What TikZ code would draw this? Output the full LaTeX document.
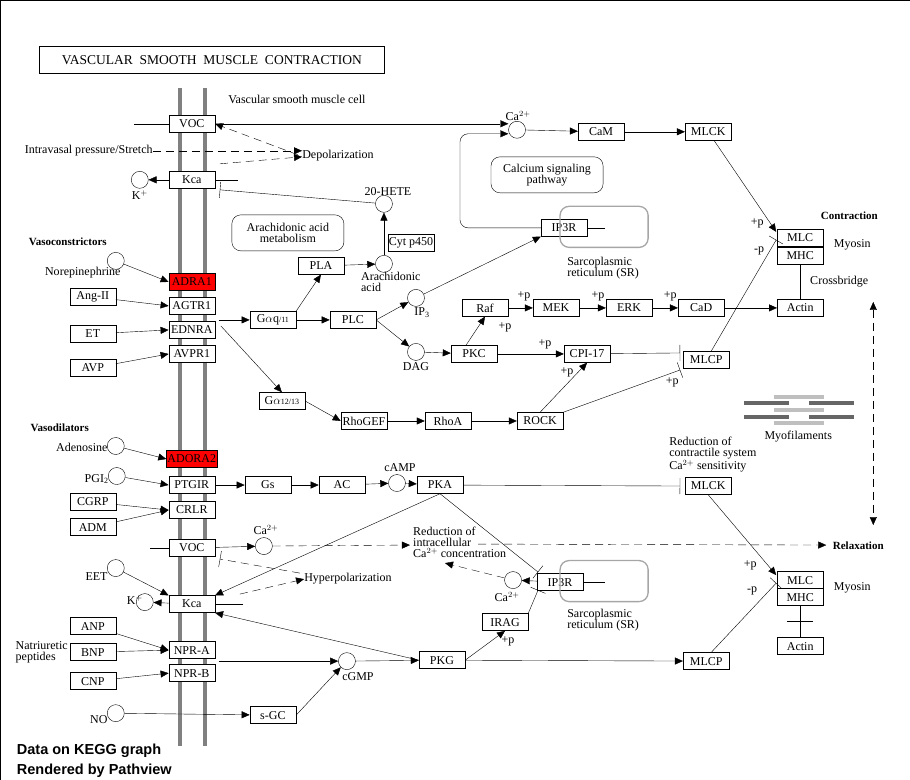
\documentclass[tikz,border=0pt]{standalone}
\usepackage{fontspec}
\setmainfont{Liberation Serif}
\newfontfamily\sansb{Liberation Sans}
\usetikzlibrary{arrows.meta,positioning}
\begin{document}
\begin{tikzpicture}[x=1pt,y=-1pt,font=\fontsize{12}{11}\selectfont,
 bx/.style={draw,fill=white,minimum width=46,minimum height=17,inner sep=1pt},
 red/.style={bx,fill=red},
 cc/.style={circle,draw,fill=white,minimum size=17,inner sep=0pt},
 rb/.style={draw,rounded corners=9,minimum width=112,minimum height=36,align=center,font=\fontsize{12}{11}\selectfont},
 sr/.style={draw=gray!70,line width=1.3pt,rounded corners=9,minimum width=88,minimum height=41},
 lb/.style={inner sep=0pt,align=left,font=\fontsize{12}{11}\selectfont},
 ar/.style={-{Triangle[length=8,width=7]}},
 inh/.style={-{Bar[width=16]}},
 dsh/.style={dash pattern=on 8pt off 5pt},
 bl/.style={font=\bfseries\fontsize{11}{11}\selectfont,inner sep=0pt}]
\draw (0.5,0.5) rectangle (909.5,779.5);
\node[draw,minimum width=345,minimum height=27,font=\fontsize{13.5}{13.5}\selectfont] (title) at (212,60) {VASCULAR\ \ SMOOTH\ \ MUSCLE\ \ CONTRACTION};
\draw[gray,line width=4pt] (180,88) -- (180,746) (205,88) -- (205,746);
\node[lb] (vsmc) at (297,100) {Vascular smooth muscle cell};
% receptors
\node[bx] (voc) at (192,124) {VOC};
\node[bx] (kca) at (192,180) {Kca};
\node[red] (adra1) at (192,282) {ADRA1};
\node[bx] (agtr1) at (192,306) {AGTR1};
\node[bx] (ednra) at (192,330) {EDNRA};
\node[bx] (avpr1) at (192,354) {AVPR1};
\node[red] (adora2) at (192,459) {ADORA2};
\node[bx] (ptgir) at (192,485) {PTGIR};
\node[bx] (crlr) at (192,510) {CRLR};
\node[bx] (voc2) at (192,548) {VOC};
\node[bx] (kca2) at (192,604) {Kca};
\node[bx] (npra) at (192,650) {NPR-A};
\node[bx] (nprb) at (192,673) {NPR-B};
% ligands
\node[bx] (ang) at (93,297) {Ang-II};
\node[bx] (et) at (93,334) {ET};
\node[bx] (avp) at (93,368) {AVP};
\node[bx] (cgrp) at (93,502) {CGRP};
\node[bx] (adm) at (93,527) {ADM};
\node[bx] (anp) at (93,626) {ANP};
\node[bx] (bnp) at (93,652) {BNP};
\node[bx] (cnp) at (93,681) {CNP};
\node[cc] (ne) at (116,261) {};
\node[lb] at (83,273) {Norepinephrine};
\node[cc] (k1) at (140,180) {};
\node[lb] at (140,195) {K$^{+}$};
\node[cc] (aden) at (116,446) {};
\node[lb,anchor=east] at (108,447) {Adenosine};
\node[cc] (pgi) at (117,476) {};
\node[lb,anchor=east] at (109,479) {PGI\textsubscript{2}};
\node[cc] (eet) at (116,568) {};
\node[lb,anchor=east] at (108,576) {EET};
\node[cc] (k2) at (145,602) {};
\node[lb] at (135,600) {K$^{+}$};
\node[cc] (no) at (116,713) {};
\node[lb,anchor=east] at (108,719) {NO};
\node[lb] at (42,652) {Natriuretic\\peptides};
\node[bl] at (68,242) {Vasoconstrictors};
\node[bl] at (60,428) {Vasodilators};
\draw[ar] (ne) -- (adra1.west);
\draw[ar] (ang) -- (agtr1.west);
\draw[ar] (et) -- (ednra.west);
\draw[ar] (avp) -- (avpr1.west);
\draw[ar] (aden) -- (adora2.west);
\draw[ar] (pgi) -- (ptgir.west);
\draw[ar] (cgrp) -- (crlr.west);
\draw[ar] (adm) -- (crlr.west);
\draw[ar] (anp) -- (npra.west);
\draw[ar] (bnp) -- (npra.west);
\draw[ar] (cnp) -- (nprb.west);
\draw[ar] (eet) -- (kca2.north west);
\draw[ar] (kca2) -- (k2);
\draw[ar] (kca) -- (k1);
% upper
\node[lb,anchor=east] (stretch) at (153,151) {Intravasal pressure/Stretch};
\node[lb] (depol) at (338,156) {Depolarization};
\coordinate (vocl) at (134,124);
\draw (vocl) -- (voc);
\draw[ar,dsh] (stretch) -- (depol.west|-0,151);
\draw[ar,dsh] (298,155) -- (voc.east);
\draw[ar,dsh] (220,164) -- (depol.west|-0,157);
\coordinate (kcas) at (238,180);
\draw (kca) -- (kcas);
\node[cc] (hete) at (384,204) {};
\node[lb] at (388,192) {20-HETE};
\node[draw,inner sep=1pt,minimum height=17] (cyt) at (411,243) {Cyt p450};
\node[cc] (arach) at (384,264) {};
\node[lb,anchor=north west] at (361,272) {Arachidonic\\acid};
\node[rb] (aam) at (288,233) {Arachidonic acid\\metabolism};
\coordinate (kcabar) at (220,190);
\draw[inh] (hete) -- (kcabar);
\draw[ar] (arach) -- (hete);
\node[bx] (pla) at (321,266) {PLA};
\node[bx] (gq) at (273,320) {G$\alpha$q\footnotesize/11};
\node[bx] (plc) at (353,320) {PLC};
\draw[ar] (pla) -- (arach);
\coordinate (gqs) at (219,320);
\draw[ar] (gqs) -- (gq);
\draw[ar] (gq.north east) -- (pla.south);
\draw[ar] (gq) -- (plc);
\node[cc] (ip3) at (416,298) {};
\node[lb] at (422,313) {IP\textsubscript{3}};
\node[cc] (dag) at (416,352) {};
\node[lb] at (416,367) {DAG};
\draw[ar] (plc.east) -- (ip3);
\draw[ar] (plc.east) -- (dag);
\node[bx] (ip3r) at (564,228) {IP3R};
\node[sr] (sr1) at (604,227) {};
\node[lb] at (603,268) {Sarcoplasmic\\reticulum (SR)};
\node[cc] (ca1) at (517,130) {};
\node[lb] at (518,116) {Ca$^{2+}$};
\draw[ar] (ip3) -- (ip3r.south west);
\coordinate (ip3rs) at (605,228);
\draw (ip3r) -- (ip3rs);
\draw[ar,rounded corners=8] (ip3r.west) -- (460,228) -- (460,134) -- (ca1.west|-0,134);
\draw[ar] (voc.east) -- (ca1.west|-0,124);
\node[bx] (cam) at (601,132) {CaM};
\node[bx] (mlck) at (708,132) {MLCK};
\draw[ar] (ca1) -- (cam);
\draw[ar] (cam) -- (mlck);
\node[rb] (csp) at (547,175) {Calcium signaling\\pathway};
\node[bx] (raf) at (485,308) {Raf};
\node[bx] (mek) at (556,308) {MEK};
\node[bx] (erk) at (629,308) {ERK};
\node[bx] (cad) at (701,308) {CaD};
\node[bx] (actin) at (800,308) {Actin};
\node[bx] (pkc) at (474,354) {PKC};
\node[bx] (cpi) at (587,354) {CPI-17};
\node[bx] (mlcp) at (706,360) {MLCP};
\node[bx] (mlc) at (800,238) {MLC};
\node[bx] (mhc) at (800,256) {MHC};
\draw[ar] (dag) -- (pkc);
\draw[ar] (pkc.north) ++(-8,0) -- (raf.south);
\draw[ar] (raf) -- (mek);
\draw[ar] (mek) -- (erk);
\draw[ar] (erk) -- (cad);
\draw[ar] (cad) -- (actin);
\draw[ar] (pkc) -- (cpi);
\node[lb] at (505,327) {+p};
\node[lb] at (524,296) {+p};
\node[lb] at (598,296) {+p};
\node[lb] at (670,296) {+p};
\node[lb] at (545,344) {+p};
\node[lb] at (567,372) {+p};
\node[lb] at (672,382) {+p};
\coordinate (mlcpbar) at (680,353);
\coordinate (mlcpbar2) at (680,370);
\draw[inh] (cpi) -- (mlcpbar);
\coordinate (mlcbar) at (776,240);
\coordinate (mlcin) at (776,232);
\draw[ar] (mlck) -- (mlcin);
\node[lb] at (757,224) {+p};
\draw[inh] (mlcp.north) ++(5,0) -- (mlcbar);
\node[lb] at (759,251) {-p};
\draw (mhc) -- (actin);
\node[lb] at (852,245) {Myosin};
\node[lb] at (839,282) {Crossbridge};
\node[bl] at (849,216) {Contraction};
\node[bl] at (858,546) {Relaxation};
\coordinate (da) at (873,302); \coordinate (db) at (873,525);
\draw[{Triangle[length=8,width=7]}-{Triangle[length=8,width=7]},dsh] (da) -- (db);
\begin{scope}[line width=4pt]
\draw[gray!50] (774,397) -- (824,397) (774,410) -- (824,410) (774,423) -- (824,423);
\draw[gray!80!black] (744,403) -- (789,403) (809,403) -- (854,403) (744,417) -- (789,417) (809,417) -- (854,417);
\end{scope}
\node[lb] at (798,437) {Myofilaments};
\node[bx] (g12) at (282,401) {G$\alpha$\footnotesize12/13};
\node[bx] (rhogef) at (364,421) {RhoGEF};
\node[bx] (rhoa) at (448,421) {RhoA};
\node[bx] (rock) at (540,421) {ROCK};
\coordinate (g12s) at (221,326);
\draw[ar] (g12s) -- (g12.north);
\draw[ar] (g12.east) -- (rhogef.west);
\draw[ar] (rhogef) -- (rhoa);
\draw[ar] (rhoa) -- (rock);
\draw[ar] (rock.north) -- (cpi.south);
\draw[inh] (rock.north east) -- (mlcpbar2);
% lower
\node[bx] (gs) at (268,485) {Gs};
\node[bx] (ac) at (342,485) {AC};
\node[cc] (camp) at (397,483) {};
\node[lb] at (400,468) {cAMP};
\node[bx] (pka) at (440,485) {PKA};
\draw[ar] (ptgir) -- (gs);
\draw[ar] (gs) -- (ac);
\draw[ar] (ac) -- (camp);
\draw[ar] (camp) -- (pka);
\node[bx] (mlck2) at (708,486) {MLCK};
\coordinate (mlck2bar) at (680,486);
\draw[inh] (pka) -- (mlck2bar);
\node[lb,anchor=north west] at (669,437) {Reduction of\\contractile system\\Ca$^{2+}$ sensitivity};
\coordinate (voc2l) at (150,548);
\draw (voc2l) -- (voc2);
\node[cc] (ca2) at (264,546) {};
\node[lb] at (266,530) {Ca$^{2+}$};
\draw[ar] (voc2) -- (ca2);
\node[lb,anchor=north west] (red) at (413,527) {Reduction of\\intracellular\\Ca$^{2+}$ concentration};
\draw[ar,dsh] (ca2) -- (410,545);
\coordinate (relax) at (826,545);
\draw[ar,dsh] (478,544) -- (relax);
\node[lb] (hyp) at (348,579) {Hyperpolarization};
\coordinate (voc2bar) at (220,559);
\draw[inh,dsh] (300,573) -- (voc2bar);
\draw[ar,dsh] (240,594) -- (hyp.west);
\coordinate (kca2s) at (243,604);
\draw (kca2) -- (kca2s);
\draw[ar] (pka.south) -- (kca2.north east);
\node[bx] (ip3r2) at (560,582) {IP3R};
\node[sr] (sr2) at (604,581) {};
\node[lb] at (603,620) {Sarcoplasmic\\reticulum (SR)};
\coordinate (ip3r2s) at (605,582);
\draw (ip3r2) -- (ip3r2s);
\node[cc] (ca3) at (513,580) {};
\node[lb] at (507,597) {Ca$^{2+}$};
\draw[ar] (ip3r2) -- (ca3);
\draw[ar,dsh] (ca3) -- (445,563);
\coordinate (ip3r2bar) at (538,572);
\coordinate (ip3r2bar2) at (538,590);
\draw[inh] (pka.south) -- (ip3r2bar);
\node[bx] (irag) at (505,622) {IRAG};
\node[bx] (pkg) at (442,660) {PKG};
\draw[inh] (irag.north east) -- (ip3r2bar2);
\draw[ar] (pkg.east) -- (irag.south);
\node[lb] at (508,641) {+p};
\draw[ar] (pkg.west) -- (kca2.south east);
\node[cc] (cgmp) at (347,661) {};
\node[lb] at (358,676) {cGMP};
\coordinate (nprs) at (219,661);
\draw[ar] (nprs) -- (cgmp);
\draw[ar] (cgmp) -- (pkg);
\node[bx] (sgc) at (273,715) {s-GC};
\draw[ar] (no) -- (sgc);
\draw[ar] (sgc.east) -- (cgmp.south west);
\node[bx] (mlcp2) at (706,661) {MLCP};
\draw[ar] (pkg) -- (mlcp2);
\node[bx] (mlc2) at (800,580) {MLC};
\node[bx] (mhc2) at (800,597) {MHC};
\node[bx] (actin2) at (800,646) {Actin};
\node[lb] at (852,588) {Myosin};
\coordinate (mlc2in) at (776,575);
\coordinate (mlc2bar) at (776,583);
\draw[ar] (mlck2.south) -- (mlc2in);
\node[lb] at (750,565) {+p};
\draw[inh] (mlcp2.north) ++(5,0) -- (mlc2bar);
\node[lb] at (752,591) {-p};
\draw (mhc2) -- (actin2);
\draw (787,621) -- (813,621);
\node[anchor=west,inner sep=0pt,font=\sansb\bfseries\fontsize{14.5}{15}\selectfont] at (17,751) {Data on KEGG graph};
\node[anchor=west,inner sep=0pt,font=\sansb\bfseries\fontsize{14.5}{15}\selectfont] at (17,771) {Rendered by Pathview};
\end{tikzpicture}
\end{document}
